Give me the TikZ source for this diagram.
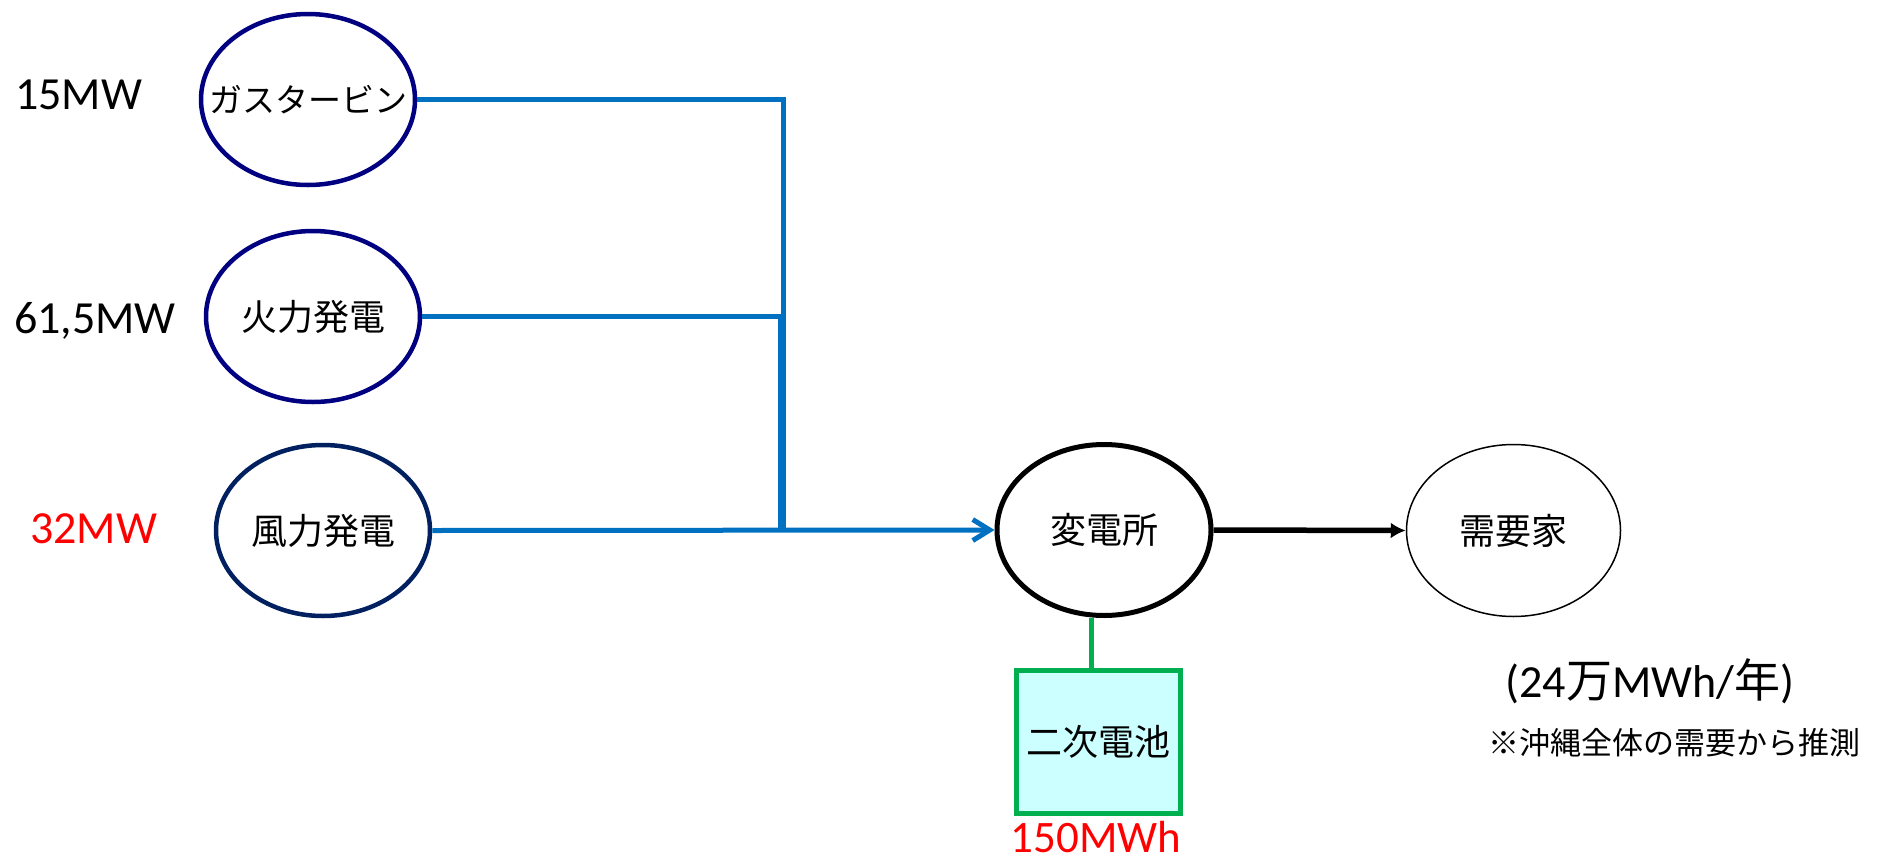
\documentclass[tikz,border=0pt]{standalone}
\usepackage{fontspec}
\setmainfont{Carlito}
\newfontfamily\cjk{Noto Sans CJK JP}
\usetikzlibrary{arrows.meta,shapes.geometric}
\definecolor{navyA}{RGB}{0,0,128}
\definecolor{navyB}{RGB}{0,32,96}
\definecolor{lineblue}{RGB}{0,112,192}
\definecolor{battgreen}{RGB}{0,176,80}
\definecolor{battfill}{RGB}{204,255,255}
\definecolor{labred}{RGB}{255,0,0}
\begin{document}
\begin{tikzpicture}[x=1pt,y=-1pt,
  oval/.style={ellipse,line width=4.5pt,minimum width=214pt,minimum height=171pt,inner sep=0pt,
    font=\cjk\fontsize{36}{36}\selectfont},
  gen/.style={oval,draw=navyA},
  mwlabel/.style={anchor=base west,inner sep=0pt,font=\fontsize{46}{46}\selectfont},
  feed/.style={draw=lineblue,line width=5pt},
  supplyline/.style={draw=black,line width=5.5pt,-{Latex[length=15pt,width=16pt]}}
]
\useasboundingbox (0,0) rectangle (1883,860);

% generators
\node[gen] (g1) at (308,99.5) {\makebox[0pt]{\fontsize{33}{33}\selectfont ガスタービン}};
\node[gen] (g2) at (313,316.5) {\makebox[0pt]{火力発電}};
\node[oval,draw=navyB] (g3) at (323,530.5) {\makebox[0pt]{風力発電}};

% capacity labels
\node[mwlabel] (l1) at (15,109) {15MW};
\node[mwlabel] (l2) at (14,333) {61,5MW};
\node[mwlabel,text=labred] (l3) at (30,543) {32MW};

% substation and consumer
\node[oval,draw=black,line width=5pt] (sub) at (1104,530) {\makebox[0pt]{変電所}};
\node[oval,draw=black,line width=1.5pt,minimum width=214pt,minimum height=172pt] (dem) at (1513.5,530.5) {\makebox[0pt]{需要家}};

% battery
\node[rectangle,draw=battgreen,fill=battfill,line width=5pt,minimum width=164pt,minimum height=143pt,inner sep=0pt,
  font=\cjk\fontsize{36}{36}\selectfont] (bat) at (1098.5,742) {二次電池};
\node[anchor=base,inner sep=0pt,text=labred,font=\fontsize{45}{45}\selectfont] (batlab) at (1096,852) {150MWh};

% demand notes
\node[anchor=base,inner sep=0pt,font=\fontsize{46}{46}\selectfont] (annual) at (1650,697) {(24{\cjk 万}MWh/{\cjk 年})};
\node[inner sep=0pt,font=\cjk\fontsize{31}{31}\selectfont] (note) at (1674,743) {※沖縄全体の需要から推測};

% feeders
\coordinate (c1) at (783.5,530);
\coordinate (c2) at (780.5,530);
\draw[feed] (g1.east) -| (c1);
\draw[feed] (g2.east) -| (c2);
\draw[feed,-{Straight Barb[length=17pt,width=21pt]}] (g3.east) -- (sub.west);

% output
\draw[supplyline] (sub.east) -- (dem.west);

% battery link
\coordinate (gx) at (1091,0);
\draw[draw=battgreen,line width=5pt] (gx |- sub.south) -- (gx |- bat.north);
\end{tikzpicture}
\end{document}
